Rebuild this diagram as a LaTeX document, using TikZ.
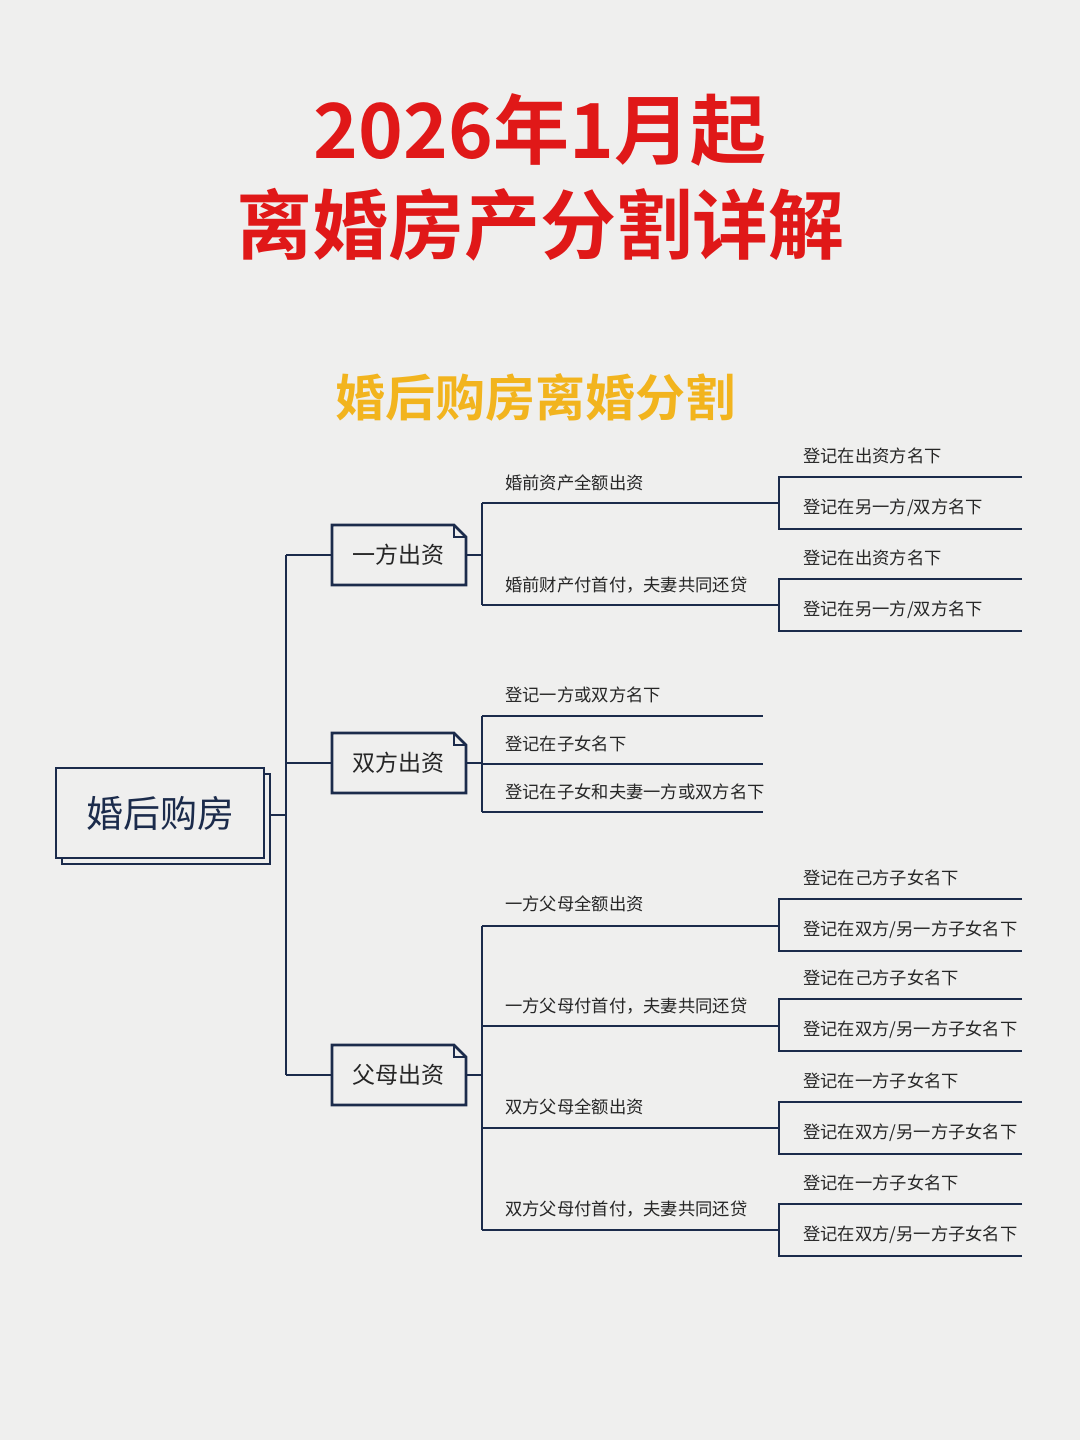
\documentclass[tikz,border=0pt]{standalone}
\usepackage{fontspec}
\newfontfamily\cjk{Noto Sans CJK SC}
\newfontfamily\cjkb{Noto Sans CJK SC Bold}
\definecolor{bg}{HTML}{EFEFEE}
\definecolor{navy}{HTML}{1B2B4B}
\definecolor{tred}{HTML}{E01818}
\definecolor{torange}{HTML}{F2B41E}
\begin{document}
\begin{tikzpicture}[x=1pt,y=-1pt,
  ln/.style={draw=navy,line width=2.6pt},
  lbl/.style={anchor=west,inner sep=0pt,font=\cjk\fontsize{17.3}{20}\selectfont,text=black!85},
  l1/.style={font=\cjk\fontsize{23}{26}\selectfont,text=black!85}]
\fill[bg] (0,0) rectangle (1080,1440);
\useasboundingbox (0,0) rectangle (1080,1440);
\node[font=\cjkb\fontsize{76}{80}\selectfont,text=tred] (t1) at (540,130) {2026年1月起};
\node[font=\cjkb\fontsize{76}{80}\selectfont,text=tred] (t2) at (540,225) {离婚房产分割详解};
\node[font=\cjkb\fontsize{50}{54}\selectfont,text=torange] (st) at (535,397) {婚后购房离婚分割};
% root
\draw[ln,fill=bg] (62,774) rectangle (270,864);
\draw[ln,fill=bg] (56,768) rectangle (264,858);
\node[font=\cjk\fontsize{37}{42}\selectfont,text=navy] (root) at (160,813) {婚后购房};
% trunk
\draw[ln] (270,815) -- (286,815);
\draw[ln] (286,555) -- (286,1075);
% level1 boxes
\foreach \n/\y/\t in {a/555/一方出资,b/763/双方出资,c/1075/父母出资}{
  \draw[ln,fill=bg] (332,\y-30) -- (454,\y-30) -- (466,\y-18) -- (466,\y+30) -- (332,\y+30) -- cycle;
  \draw[draw=navy,line width=1.5pt] (454,\y-30) -- (454,\y-18) -- (466,\y-18);
  \node[l1] (\n) at (398,\y) {\t};
  \draw[ln] (286,\y) -- (332,\y);
  \draw[ln] (466,\y) -- (482,\y);
}
% branch a
\draw[ln] (482,503) -- (482,605);
\draw[ln] (482,503) -- (779,503);
\draw[ln] (482,605) -- (779,605);
\node[lbl] (a1) at (505,483) {婚前资产全额出资};
\node[lbl] (a2) at (505,585) {婚前财产付首付，夫妻共同还贷};
% branch b
\draw[ln] (482,716) -- (482,812);
\foreach \y in {716,764,812} \draw[ln] (482,\y) -- (763,\y);
\node[lbl] (b1) at (505,695) {登记一方或双方名下};
\node[lbl] (b2) at (505,744) {登记在子女名下};
\node[lbl] (b3) at (505,792) {登记在子女和夫妻一方或双方名下};
% branch c
\draw[ln] (482,926) -- (482,1230);
\foreach \y in {926,1026,1128,1230} \draw[ln] (482,\y) -- (779,\y);
\node[lbl] (c1) at (505,904) {一方父母全额出资};
\node[lbl] (c2) at (505,1006) {一方父母付首付，夫妻共同还贷};
\node[lbl] (c3) at (505,1107) {双方父母全额出资};
\node[lbl] (c4) at (505,1209) {双方父母付首付，夫妻共同还贷};
% right brackets
\foreach \t/\ta/\tb in {477/{登记在出资方名下}/{登记在另一方/双方名下},
                        579/{登记在出资方名下}/{登记在另一方/双方名下},
                        899/{登记在己方子女名下}/{登记在双方/另一方子女名下},
                        999/{登记在己方子女名下}/{登记在双方/另一方子女名下},
                        1102/{登记在一方子女名下}/{登记在双方/另一方子女名下},
                        1204/{登记在一方子女名下}/{登记在双方/另一方子女名下}}{
  \draw[ln] (1022,\t) -- (779,\t) -- (779,\t+52) -- (1022,\t+52);
  \node[lbl] at (803,\t-21) {\ta};
  \node[lbl] at (803,\t+31) {\tb};
}
\end{tikzpicture}
\end{document}
